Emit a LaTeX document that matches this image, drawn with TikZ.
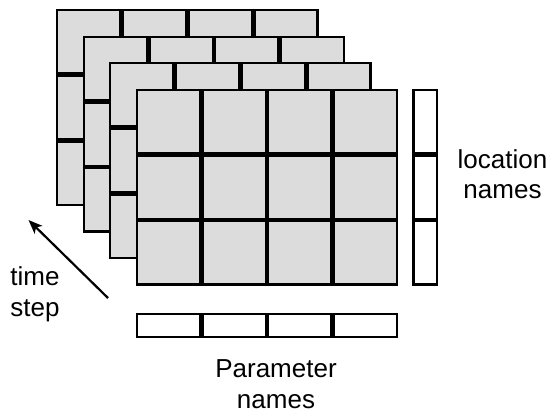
\documentclass[tikz,border=0pt]{standalone}
\usepackage{fontspec}
\setmainfont{Liberation Sans}
\usetikzlibrary{arrows.meta}
\definecolor{cellgray}{HTML}{DCDCDC}
\tikzset{
  cell/.style={draw=black, line width=2.4bp, fill=cellgray, inner sep=0pt, outer sep=0pt,
    minimum width=63.3bp, minimum height=63.3bp},
  namecell/.style={draw=black, line width=2.4bp, fill=white, inner sep=0pt, outer sep=0pt},
  lbl/.style={font=\fontsize{26bp}{30.5bp}\selectfont, align=center, inner sep=0pt},
  timearrow/.style={line width=2.2bp, -{Stealth[length=14bp, width=11bp, inset=3.5bp]}}
}
\begin{document}
\begin{tikzpicture}[x=1bp, y=-1bp]
\useasboundingbox (0,0) rectangle (550,414);
% four stacked grids, back to front
\foreach \g/\ox/\oy in {1/56/9, 2/82.5/35.5, 3/109/62, 4/135.5/88.5}{
  \foreach \i in {0,...,3}{
    \foreach \j in {0,...,2}{
      \node[cell] (g\g-\i-\j) at (\ox+\i*65.7+32.85, \oy+\j*65.7+32.85) {};
    }
  }
}
% location names column
\foreach \j in {0,...,2}{
  \node[namecell, minimum width=23.1bp, minimum height=63.3bp] (loc-\j) at (425.2, 88.5+\j*65.7+32.85) {};
}
% parameter names row
\foreach \i in {0,...,3}{
  \node[namecell, minimum width=63.3bp, minimum height=23.1bp] (par-\i) at (135.5+\i*65.7+32.85, 325.7) {};
}
% labels
\node[lbl] (loclbl) at (502.5, 174) {location\\names};
\node[lbl] (parlbl) at (276, 384) {Parameter\\names};
\node[lbl] (timelbl) at (35, 294.5) {time\\step};
% time step arrow
\coordinate (tstart) at (108, 298);
\coordinate (tend) at (28.5, 220);
\draw[timearrow] (tstart) -- (tend);
\end{tikzpicture}
\end{document}
